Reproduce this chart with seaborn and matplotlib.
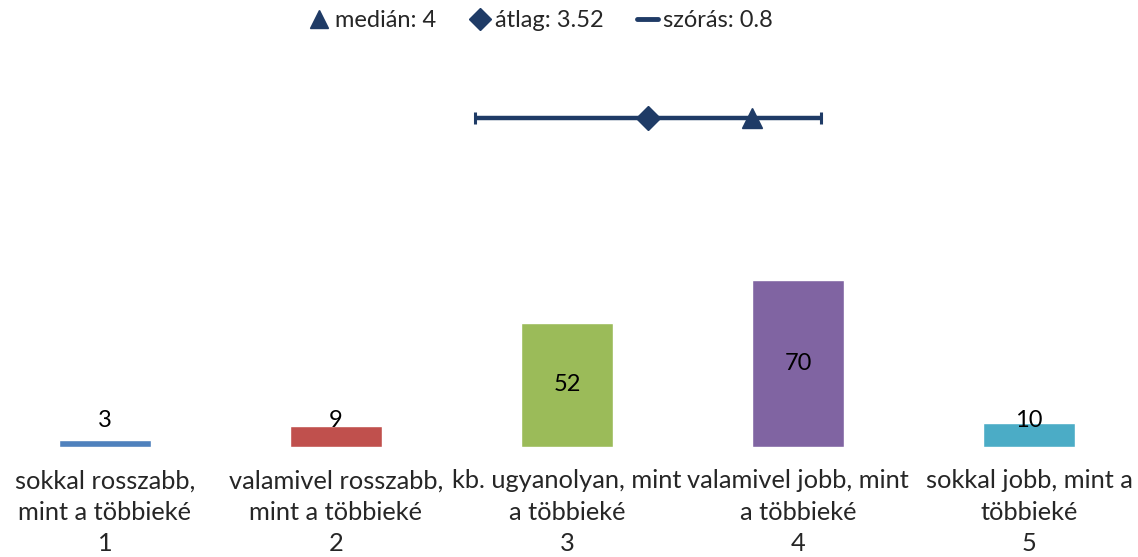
import numpy as np
import seaborn as sns
import matplotlib.pyplot as plt
from matplotlib.lines import Line2D

# answer categories and counts
categories = ["sokkal rosszabb,\nmint a többieké\n1",
              "valamivel rosszabb,\nmint a többieké\n2",
              "kb. ugyanolyan, mint\na többieké\n3",
              "valamivel jobb, mint\na többieké\n4",
              "sokkal jobb, mint a\ntöbbieké\n5"]
counts = [3, 9, 52, 70, 10]
bar_colors = ["#4F81BD", "#C0504D", "#9BBB59", "#8064A2", "#4BACC6"]

# summary statistics (on the 1-5 scale)
median = 4
mean = 3.52
sd = 0.8

navy = "#1F3B66"

sns.set_theme(style="white")
plt.rcParams['font.family'] = ['Lato', 'DejaVu Sans']

fig = plt.figure(figsize=(11.38, 5.57), dpi=100)
ax = fig.add_axes([0, 1 - 447 / 557, 1, 387 / 557])

sns.barplot(x=categories, y=counts, hue=categories, palette=bar_colors,
            legend=False, width=0.40, saturation=1, ax=ax)
ax.set_xlim(-0.4545, 4.472)
ax.set_ylim(0, 162)
sns.despine(ax=ax, left=True, bottom=True)
ax.set_yticks([])
ax.set_xlabel("")
ax.set_ylabel("")
ax.tick_params(axis="x", length=0, pad=16)
for lab in ax.get_xticklabels():
    lab.set_fontsize(18.3)
    lab.set_linespacing(1.44)

# value labels, centred but kept above the baseline for small bars
for i, v in enumerate(counts):
    ax.text(i, max(v / 2, 11.3), str(v), ha="center", va="center",
            fontsize=17, color="black")

# summary line on its own 1-5 scale
ax2 = fig.add_axes(ax.get_position(), frameon=False)
ax2.set_xlim(0.529, 5.781)
ax2.set_ylim(0, 1)
ax2.set_xticks([])
ax2.set_yticks([])
ax2.errorbar([mean], [0.85], xerr=[sd], fmt="D", color=navy, ms=12,
             elinewidth=3.2, capsize=4.5, capthick=2.2)
ax2.plot([median], [0.85], marker="^", ms=14, color=navy, ls="none")

handles = [Line2D([], [], marker="^", color=navy, ls="none", ms=13),
           Line2D([], [], marker="D", color=navy, ls="none", ms=11),
           Line2D([], [], color=navy, lw=3.5)]
labels = [f"medián: {median}", f"átlag: {mean}", f"szórás: {sd}"]
fig.legend(handles, labels, loc="upper center", bbox_to_anchor=(0.475, 1.02),
           ncol=3, frameon=False, fontsize=17, handlelength=0.9,
           handletextpad=0.2, columnspacing=1.4)

fig.savefig("out.png", dpi=100)
